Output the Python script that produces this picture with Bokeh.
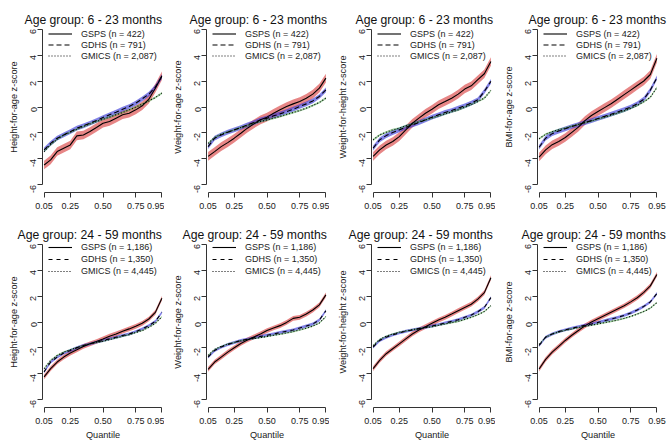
import math
from bokeh.plotting import figure
from bokeh.layouts import column, row
from bokeh.models import FixedTicker, Legend, LegendItem, ColumnDataSource
from bokeh.embed import file_html
from bokeh.resources import INLINE

# ---------------- data ----------------
quantiles = [0.05, 0.10, 0.15, 0.20, 0.25, 0.30, 0.35, 0.40, 0.45, 0.50,
             0.55, 0.60, 0.65, 0.70, 0.75, 0.80, 0.85, 0.90, 0.95]
x_ticks = [0.05, 0.25, 0.50, 0.75, 0.95]
x_tick_labels = ["0.05", "0.25", "0.50", "0.75", "0.95"]
y_ticks = [-6, -4, -2, 0, 2, 4, 6]
y_tick_labels = ["-6", "-4", "-2", "0", "2", "4", "6"]

age_groups = ["6 - 23 months", "24 - 59 months"]
indicators = ["Height-for-age z-score", "Weight-for-age z-score",
              "Weight-for-height z-score", "BMI-for-age z-score"]
surveys = ["GSPS", "GDHS", "GMICS"]
sample_sizes_6_23 = ["422", "791", "2,087"]
sample_sizes_24_59 = ["1,186", "1,350", "4,445"]

# 6 - 23 months
haz_6_23_gsps = [-4.46, -4.07, -3.43, -3.17, -2.92, -2.22, -2.15, -1.89, -1.58, -1.25,
                 -1.12, -0.86, -0.60, -0.48, -0.22, 0.09, 0.60, 1.45, 2.40]
haz_6_23_gdhs = [-3.30, -2.80, -2.40, -2.15, -1.90, -1.63, -1.45, -1.25, -1.04, -0.81,
                 -0.60, -0.40, -0.17, 0.04, 0.30, 0.63, 0.99, 1.53, 2.35]
haz_6_23_gmics = [-3.43, -2.90, -2.48, -2.15, -1.94, -1.71, -1.50, -1.30, -1.12, -0.94,
                  -0.78, -0.60, -0.42, -0.22, -0.01, 0.22, 0.47, 0.73, 1.07]

waz_6_23_gsps = [-3.80, -3.43, -3.05, -2.74, -2.40, -2.02, -1.63, -1.30, -0.99, -0.78,
                 -0.48, -0.22, 0.04, 0.24, 0.42, 0.68, 0.99, 1.45, 2.22]
waz_6_23_gdhs = [-3.05, -2.40, -2.15, -1.94, -1.76, -1.58, -1.38, -1.20, -0.99, -0.86,
                 -0.68, -0.53, -0.35, -0.17, 0.04, 0.24, 0.47, 0.81, 1.32]
waz_6_23_gmics = [-2.80, -2.35, -2.10, -1.92, -1.76, -1.58, -1.43, -1.25, -1.12, -0.99,
                  -0.86, -0.73, -0.58, -0.42, -0.27, -0.09, 0.12, 0.35, 0.68]

whz_6_23_gsps = [-3.80, -3.30, -2.92, -2.66, -2.28, -1.76, -1.25, -0.86, -0.48, -0.17,
                 0.17, 0.42, 0.68, 0.99, 1.38, 1.63, 2.10, 2.56, 3.50]
whz_6_23_gdhs = [-3.17, -2.53, -2.20, -1.97, -1.76, -1.56, -1.38, -1.20, -0.99, -0.78,
                 -0.60, -0.42, -0.27, -0.09, 0.09, 0.30, 0.55, 1.20, 1.97]
whz_6_23_gmics = [-2.53, -2.15, -1.94, -1.76, -1.63, -1.45, -1.30, -1.14, -0.99, -0.84,
                  -0.68, -0.53, -0.37, -0.22, -0.01, 0.19, 0.42, 0.68, 1.27]

baz_6_23_gsps = [-3.85, -3.30, -2.90, -2.65, -2.35, -1.95, -1.55, -1.05, -0.65, -0.35,
                 -0.05, 0.25, 0.60, 0.95, 1.30, 1.65, 2.00, 2.50, 3.75]
baz_6_23_gdhs = [-3.10, -2.40, -2.05, -1.85, -1.68, -1.50, -1.35, -1.20, -1.05, -0.88,
                 -0.72, -0.55, -0.38, -0.20, 0.00, 0.25, 0.60, 1.30, 2.25]
baz_6_23_gmics = [-2.45, -2.10, -1.90, -1.75, -1.62, -1.48, -1.35, -1.20, -1.07, -0.92,
                  -0.78, -0.63, -0.47, -0.30, -0.10, 0.12, 0.40, 0.75, 1.50]

# 24 - 59 months
haz_24_59_gsps = [-4.22, -3.59, -3.08, -2.70, -2.39, -2.14, -1.88, -1.68, -1.50, -1.30,
                  -1.09, -0.92, -0.71, -0.53, -0.33, -0.10, 0.23, 0.74, 1.83]
haz_24_59_gdhs = [-3.84, -3.08, -2.70, -2.39, -2.19, -1.98, -1.81, -1.68, -1.55, -1.42,
                  -1.30, -1.17, -1.04, -0.92, -0.74, -0.53, -0.28, 0.05, 0.74]
haz_24_59_gmics = [-3.59, -2.95, -2.57, -2.32, -2.14, -1.96, -1.81, -1.68, -1.58, -1.48,
                   -1.35, -1.22, -1.09, -0.97, -0.81, -0.66, -0.41, -0.10, 0.41]

waz_24_59_gsps = [-3.64, -3.08, -2.70, -2.32, -1.98, -1.65, -1.38, -1.15, -0.92, -0.66,
                  -0.46, -0.28, -0.03, 0.28, 0.36, 0.61, 0.92, 1.32, 2.09]
waz_24_59_gdhs = [-2.70, -2.19, -1.93, -1.73, -1.58, -1.42, -1.32, -1.22, -1.12, -1.02,
                  -0.92, -0.81, -0.71, -0.61, -0.46, -0.31, -0.15, 0.15, 0.87]
waz_24_59_gmics = [-2.57, -2.11, -1.88, -1.70, -1.58, -1.45, -1.35, -1.27, -1.20, -1.12,
                   -1.02, -0.94, -0.84, -0.74, -0.61, -0.48, -0.31, -0.08, 0.41]

whz_24_59_gsps = [-3.59, -2.95, -2.44, -2.06, -1.68, -1.30, -0.92, -0.61, -0.36, -0.10,
                  0.15, 0.36, 0.61, 0.87, 1.12, 1.37, 1.76, 2.26, 3.41]
whz_24_59_gdhs = [-1.93, -1.42, -1.17, -0.99, -0.84, -0.71, -0.61, -0.51, -0.41, -0.31,
                  -0.20, -0.08, 0.05, 0.18, 0.36, 0.53, 0.79, 1.12, 1.88]
whz_24_59_gmics = [-1.81, -1.35, -1.09, -0.92, -0.79, -0.69, -0.59, -0.51, -0.43, -0.36,
                   -0.25, -0.15, -0.05, 0.05, 0.20, 0.36, 0.56, 0.81, 1.25]

baz_24_59_gsps = [-3.62, -2.88, -2.32, -1.87, -1.42, -1.02, -0.65, -0.30, 0.00, 0.25,
                  0.50, 0.75, 1.00, 1.25, 1.55, 1.87, 2.28, 2.78, 3.66]
baz_24_59_gdhs = [-1.81, -1.17, -0.92, -0.74, -0.61, -0.48, -0.36, -0.25, -0.15, -0.03,
                  0.10, 0.23, 0.36, 0.51, 0.69, 0.92, 1.20, 1.55, 2.19]
baz_24_59_gmics = [-1.73, -1.17, -0.92, -0.76, -0.64, -0.53, -0.43, -0.33, -0.25, -0.15,
                   -0.05, 0.05, 0.15, 0.28, 0.43, 0.61, 0.81, 1.07, 1.50]

# approximate half-widths of the confidence bands (GSPS, GDHS, GMICS)
ci_half_6_23 = [0.33, 0.18, 0.08]
ci_half_24_59 = [0.18, 0.11, 0.06]

panels_6_23 = [
    [haz_6_23_gsps, haz_6_23_gdhs, haz_6_23_gmics],
    [waz_6_23_gsps, waz_6_23_gdhs, waz_6_23_gmics],
    [whz_6_23_gsps, whz_6_23_gdhs, whz_6_23_gmics],
    [baz_6_23_gsps, baz_6_23_gdhs, baz_6_23_gmics],
]
panels_24_59 = [
    [haz_24_59_gsps, haz_24_59_gdhs, haz_24_59_gmics],
    [waz_24_59_gsps, waz_24_59_gdhs, waz_24_59_gmics],
    [whz_24_59_gsps, whz_24_59_gdhs, whz_24_59_gmics],
    [baz_24_59_gsps, baz_24_59_gdhs, baz_24_59_gmics],
]

# ---------------- styles / layout ----------------
FONT = "Liberation Sans"
TEXT = "#1a1a1a"
AXIS = "#333333"
band_colors = ["#d93b3b", "#3434d6", "#4aa64a"]
band_alphas = [0.62, 0.62, 0.55]
dashes_top = ["solid", "5 3", "1 2"]
dashes_bottom = ["solid", "4 4", "1 2"]
panel_widths = [164, 165, 166, 173]
row_heights = [217, 229]
FRAME_W = 121
BORDER_L = 42
# title start relative to the frame's left edge (keeps the text inside each panel)
title_offsets = [[-18, -17, -16, -9], [-25, -24, -23, -16]]
# legend box position (screen px from the frame's bottom-left corner)
legend_pos = [(6, 131), (6, 130)]


def make_panel(ind_idx, grp_idx):
    top = grp_idx == 0
    series = (panels_6_23 if top else panels_24_59)[ind_idx]
    ns = sample_sizes_6_23 if top else sample_sizes_24_59
    ci = ci_half_6_23 if top else ci_half_24_59
    dashes = dashes_top if top else dashes_bottom
    w = panel_widths[ind_idx]

    p = figure(width=w, height=row_heights[grp_idx],
               x_range=(0.0378, 0.9622), y_range=(-6.58, 6.58),
               output_backend="svg", toolbar_location=None,
               min_border_left=BORDER_L, min_border_right=w - BORDER_L - FRAME_W,
               min_border_top=21 if top else 19,
               min_border_bottom=25 if top else 39,
               title="Age group: " + age_groups[grp_idx])
    p.outline_line_color = None
    p.grid.visible = False
    p.background_fill_color = "white"
    p.border_fill_color = "white"

    p.title.align = "left"
    p.title.offset = title_offsets[grp_idx][ind_idx]
    p.title.text_font = FONT
    p.title.text_font_style = "normal"
    p.title.text_font_size = "12.2px"
    p.title.text_color = "#111111"
    p.title.standoff = -11

    # bands
    for i in range(3):
        src = ColumnDataSource(dict(
            x=quantiles,
            lo=[v - ci[i] for v in series[i]],
            hi=[v + ci[i] for v in series[i]]))
        p.varea(x="x", y1="lo", y2="hi", source=src,
                fill_color=band_colors[i], fill_alpha=band_alphas[i])
    # lines
    items = []
    for i in range(3):
        src = ColumnDataSource(dict(x=quantiles, y=series[i]))
        r = p.line(x="x", y="y", source=src, line_color="black",
                   line_width=1.1, line_dash=dashes[i])
        items.append(LegendItem(label=f"{surveys[i]} (n = {ns[i]})", renderers=[r]))

    leg = Legend(items=items, location=legend_pos[grp_idx])
    leg.margin = 0
    leg.padding = 0
    leg.spacing = 0
    leg.label_height = 11 if top else 12
    leg.glyph_height = 11 if top else 12
    leg.glyph_width = 24
    leg.label_standoff = 9
    leg.label_text_font = FONT
    leg.label_text_font_size = "9px"
    leg.label_text_color = TEXT
    leg.border_line_color = None
    leg.background_fill_alpha = 0
    p.add_layout(leg)

    # axes
    xa = p.xaxis[0]
    xa.ticker = FixedTicker(ticks=x_ticks)
    xa.major_label_overrides = dict(zip(x_ticks, x_tick_labels))
    xa.bounds = (x_ticks[0], x_ticks[-1])
    ya = p.yaxis[0]
    ya.ticker = FixedTicker(ticks=y_ticks)
    ya.major_label_overrides = dict(zip(y_ticks, y_tick_labels))
    ya.bounds = (y_ticks[0], y_ticks[-1])
    ya.major_label_orientation = math.pi / 2
    ya.axis_label = indicators[ind_idx]
    if not top:
        xa.axis_label = "Quantile"
    for ax in (xa, ya):
        ax.axis_line_color = AXIS
        ax.major_tick_line_color = AXIS
        ax.minor_tick_line_color = None
        ax.major_tick_in = 0
        ax.major_tick_out = 5
        ax.major_label_text_font = FONT
        ax.major_label_text_font_size = "9px"
        ax.major_label_text_color = TEXT
        ax.axis_label_text_font = FONT
        ax.axis_label_text_font_size = "9.2px"
        ax.axis_label_text_font_style = "normal"
        ax.axis_label_text_color = TEXT
    xa.major_label_standoff = 5
    xa.axis_label_standoff = 3
    ya.major_label_standoff = 4
    ya.axis_label_standoff = 6
    return p


rows = []
for g in range(2):
    rows.append(row(*[make_panel(i, g) for i in range(4)], spacing=0))
layout = column(*rows, spacing=0)

open("out.html", "w").write(file_html(layout, INLINE))
